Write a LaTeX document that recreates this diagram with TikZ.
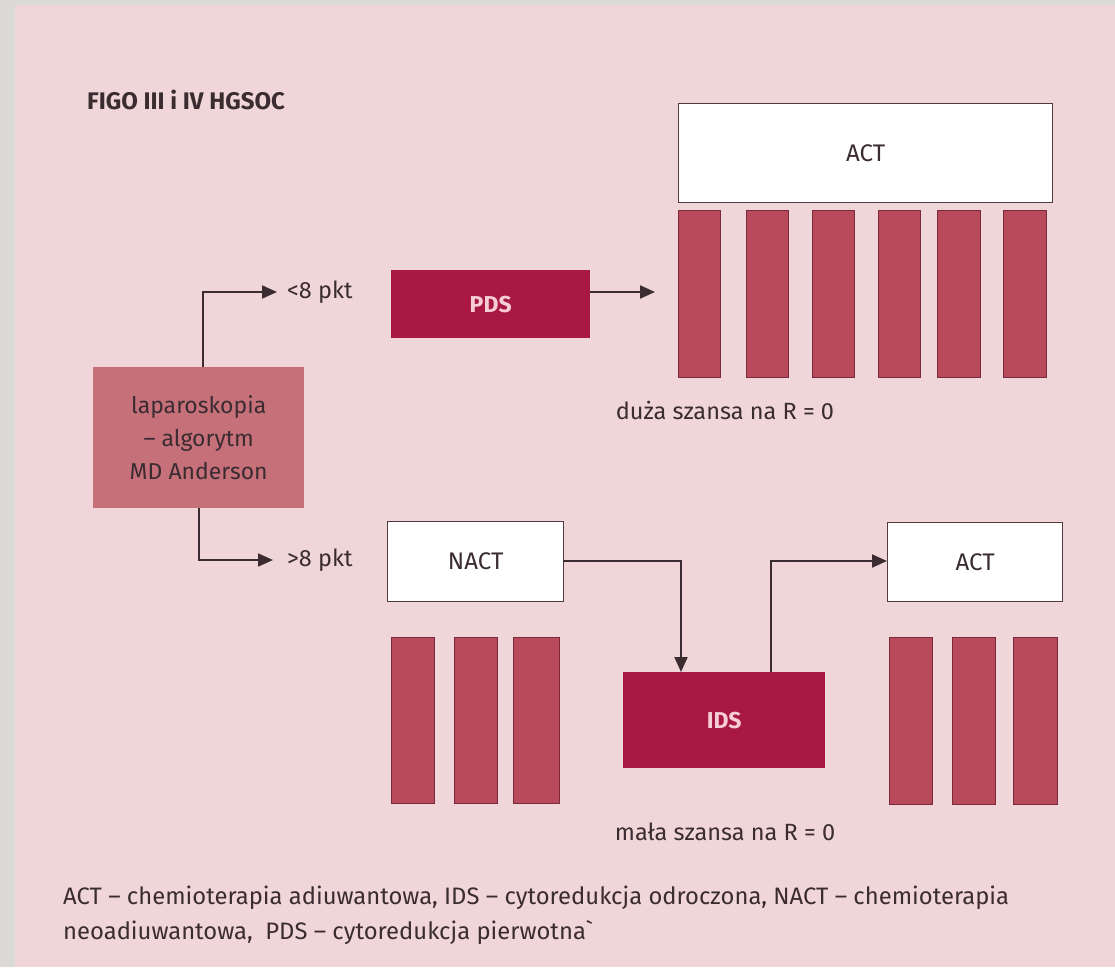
\documentclass[tikz,border=0pt]{standalone}
\usepackage{fontspec}
\setmainfont{Fira Sans}
\usetikzlibrary{arrows.meta}
\definecolor{bggrey}{RGB}{220,218,214}
\definecolor{bgpink}{RGB}{240,214,216}
\definecolor{darkbox}{RGB}{168,24,64}
\definecolor{barfill}{RGB}{184,74,92}
\definecolor{barline}{RGB}{122,42,58}
\definecolor{lapfill}{RGB}{198,112,122}
\definecolor{txt}{RGB}{58,44,48}
\definecolor{lighttxt}{RGB}{246,205,214}
\definecolor{boxline}{RGB}{80,60,64}
\tikzset{
  whitebox/.style={draw=boxline, line width=1.3pt, fill=white, text=txt, inner sep=0pt, font=\fontsize{24}{28}\selectfont},
  darkproc/.style={fill=darkbox, draw=none, text=lighttxt, inner sep=0pt, font=\fontsize{23}{28}\selectfont\bfseries},
  lapbox/.style={fill=lapfill, draw=none, text=txt, inner sep=0pt, align=center, font=\fontsize{23}{33}\selectfont},
  bar/.style={fill=barfill, draw=barline, line width=1pt, inner sep=0pt, anchor=north west},
  lbl/.style={text=txt, inner sep=0pt, font=\fontsize{23.5}{28}\selectfont},
  conn/.style={draw=txt, line width=2pt, -{Triangle[length=15pt,width=13pt]}},
}
\begin{document}
\begin{tikzpicture}[x=1pt,y=-1pt]
\fill[bggrey] (0,0) rectangle (1115,967);
\fill[bgpink] (15,5) rectangle (1115,967);
\useasboundingbox (0,0) rectangle (1115,967);

\node[lbl, anchor=west, font=\fontsize{24}{28}\selectfont\bfseries] (title) at (87,100) {FIGO III i IV HGSOC};

% top branch
\node[whitebox, anchor=north west, minimum width=374pt, minimum height=99pt] (act1) at (678,103) {ACT};
\node[bar, minimum width=42pt, minimum height=167pt] (t1) at (678,210) {};
\node[bar, minimum width=42pt, minimum height=167pt] (t2) at (746,210) {};
\node[bar, minimum width=42pt, minimum height=167pt] (t3) at (812,210) {};
\node[bar, minimum width=42pt, minimum height=167pt] (t4) at (878,210) {};
\node[bar, minimum width=43pt, minimum height=167pt] (t5) at (937,210) {};
\node[bar, minimum width=43pt, minimum height=167pt] (t6) at (1003,210) {};
\node[darkproc, anchor=north west, minimum width=199pt, minimum height=68pt] (pds) at (391,270) {PDS};
\coordinate (pdsend) at (655,292);
\draw[conn] (pds.east |- pdsend) -- (pdsend);
\node[lbl] (duza) at (725,410) {duża szansa na R = 0};

% laparoscopy
\node[lapbox, anchor=north west, minimum width=211pt, minimum height=141pt] (lap) at (93,367) {laparoskopia\\ -- algorytm\\ MD Anderson};
\node[lbl, anchor=west] (lt8) at (287,292) {<8 pkt};
\node[lbl, anchor=west] (gt8) at (287,560) {>8 pkt};
\coordinate (lt8tip) at (277,292);
\coordinate (gt8tip) at (273,560);
\draw[conn] ([xshift=4pt]lap.north) |- (lt8tip);
\draw[conn] ([xshift=0pt]lap.south) |- (gt8tip);

% bottom branch
\node[whitebox, anchor=north west, minimum width=176pt, minimum height=80pt] (nact) at (387,521) {NACT};
\node[bar, minimum width=43pt, minimum height=166pt] (n1) at (391,637) {};
\node[bar, minimum width=43pt, minimum height=166pt] (n2) at (454,637) {};
\node[bar, minimum width=46pt, minimum height=166pt] (n3) at (513,637) {};
\node[darkproc, anchor=north west, minimum width=202pt, minimum height=96pt] (ids) at (623,672) {IDS};
\node[whitebox, anchor=north west, minimum width=175pt, minimum height=79pt] (act2) at (887,522) {ACT};
\node[bar, minimum width=43pt, minimum height=167pt] (a1) at (889,637) {};
\node[bar, minimum width=43pt, minimum height=167pt] (a2) at (952,637) {};
\node[bar, minimum width=44pt, minimum height=167pt] (a3) at (1013,637) {};
\coordinate (nactout) at (563,561);
\coordinate (idsin) at (681,672);
\coordinate (idsout) at (771,672);
\draw[conn] (nactout) -| (idsin);
\draw[conn] (idsout) |- (act2.west |- nactout);
\node[lbl] (mala) at (725,832) {mała szansa na R = 0};

% legend
\node[lbl, anchor=west, font=\fontsize{23.8}{28}\selectfont] (leg1) at (63,898) {ACT -- chemioterapia adiuwantowa, IDS -- cytoredukcja odroczona, NACT -- chemioterapia};
\node[lbl, anchor=west, font=\fontsize{23.8}{28}\selectfont] (leg2) at (63,932) {neoadiuwantowa,\ \ PDS -- cytoredukcja pierwotna\textasciigrave};
\end{tikzpicture}
\end{document}
